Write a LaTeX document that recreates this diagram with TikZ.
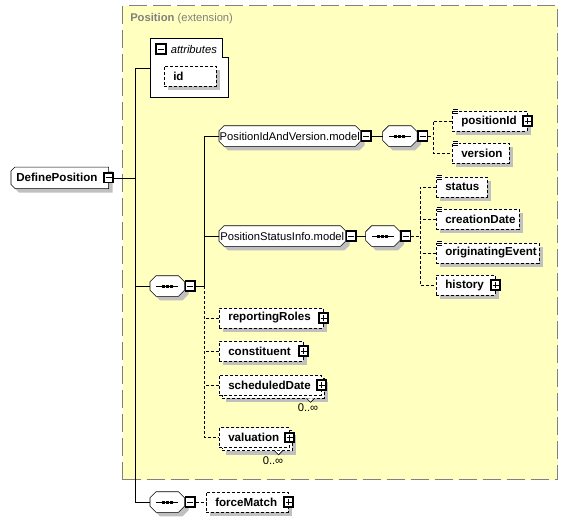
\documentclass[tikz,border=0pt]{standalone}
\usepackage{fontspec}
\setmainfont{Liberation Sans}
\usepackage{tikz}
\usetikzlibrary{shadows}
\pgfdeclarelayer{back}
\pgfdeclarelayer{background}
\pgfsetlayers{back,background,main}
\newdimen\pxu
\pxu=0.75pt
\hyphenpenalty=10000
\definecolor{extfill}{RGB}{255,255,192}
\definecolor{extline}{RGB}{128,128,128}
\definecolor{shgray}{RGB}{192,192,192}
\newcommand{\boldfnt}{\fontsize{8.7}{10}\selectfont\bfseries}
\newcommand{\plainfnt}{\fontsize{8.4}{10}\selectfont}
\newcommand{\octpath}[2]{([xshift=#2]#1.north west) -- ([xshift=-#2]#1.north east) -- ([yshift=-#2]#1.north east) -- ([yshift=#2]#1.south east) -- ([xshift=-#2]#1.south east) -- ([xshift=#2]#1.south west) -- ([yshift=#2]#1.south west) -- ([yshift=-#2]#1.north west) -- cycle}

\begin{document}
\begin{tikzpicture}[x=0.75pt, y=-0.75pt, line width=0.75pt]
      \tikzstyle{ext} = [draw=extline, fill=extfill, line width=1.1pt, dash pattern=on 13.5pt off 4.5pt, anchor=north west, inner sep=0pt, minimum width=435\pxu, minimum height=474\pxu]
      \tikzstyle{shadowed} = [drop shadow={shadow xshift=4\pxu, shadow yshift=-4\pxu, fill=shgray, opacity=1}]
      \tikzstyle{optline} = [dash pattern=on 2.25pt off 1.5pt]
      \tikzstyle{elem} = [draw, fill=white, font=\boldfnt, anchor=west, align=left, inner xsep=9\pxu, inner ysep=0pt, minimum height=20\pxu, shadowed]
      \tikzstyle{opt} = [elem, optline]
      \tikzstyle{multi} = [draw, fill=white, font=\boldfnt, anchor=west, align=left, inner xsep=9\pxu, inner ysep=0pt, minimum height=20\pxu, optline, drop shadow={shadow xshift=7\pxu, shadow yshift=-7\pxu, fill=shgray, opacity=1}, copy shadow={shadow xshift=3\pxu, shadow yshift=-3\pxu, draw=black, fill=white, optline}]
      \tikzstyle{icon} = [inner sep=0pt, minimum width=6\pxu, minimum height=6\pxu, fill=white, path picture={\foreach \k in {0.75,2.75,4.75} \draw[line width=0.75pt] ([yshift=-\k\pxu]path picture bounding box.north west) -- ++(5.5\pxu,0);}]
      \tikzstyle{simple} = [label={[icon, anchor=north west, xshift=0.5\pxu, yshift=2\pxu]north west:}]
      \tikzstyle{pmbox} = [draw, fill=white, line width=1.2pt, inner sep=0pt, minimum size=9.5\pxu]
      \tikzstyle{minus} = [pmbox, path picture={\draw[line width=0.75pt] ([xshift=-3\pxu]path picture bounding box.center) -- ([xshift=3\pxu]path picture bounding box.center);}]
      \tikzstyle{plus} = [pmbox, path picture={\draw[line width=0.75pt] ([xshift=-3\pxu]path picture bounding box.center) -- ([xshift=3\pxu]path picture bounding box.center) ([yshift=-3\pxu]path picture bounding box.center) -- ([yshift=3\pxu]path picture bounding box.center);}]
      \tikzstyle{seq} = [inner sep=0pt, minimum width=34\pxu, minimum height=20\pxu, anchor=west]
      \tikzstyle{seqmark} = [path picture={\draw ([xshift=-11\pxu]path picture bounding box.center) -- ([xshift=11\pxu]path picture bounding box.center); \draw[line width=3\pxu, dash pattern=on 3\pxu off 1\pxu] ([xshift=-5.5\pxu]path picture bounding box.center) -- ([xshift=5.5\pxu]path picture bounding box.center);}]
      \tikzstyle{grp} = [font=\plainfnt, inner sep=0pt, minimum height=20\pxu, anchor=west]
      \tikzstyle{root} = [font=\boldfnt, inner xsep=5\pxu, inner ysep=0pt, text width=87\pxu, align=left, minimum height=21\pxu, anchor=west]
      \tikzstyle{tail} = [fill=white, line width=0.5pt]
      \useasboundingbox (0,0) rectangle (568,522);
      \begin{pgfonlayer}{back}
        \node[ext] (ext) at (122,5) {};
      \end{pgfonlayer}
      \node[anchor=west, font=\plainfnt, text=extline, inner sep=0pt] (title) at (130,19) {\textbf{Position} (extension)};
      \node[root] (root) at (11,177.8) {DefinePosition};
      \node[minus] (root-m) at (root.east) {};
      \node[minimum width=78\pxu, minimum height=59\pxu, anchor=north west, inner sep=0pt] (attr) at (150,38) {};
      \filldraw[fill=white] (attr.north west) -- ([xshift=-6\pxu]attr.north east) -- ([xshift=-6\pxu,yshift=-19\pxu]attr.north east) -- ([yshift=-19\pxu]attr.north east) -- (attr.south east) -- (attr.south west) -- cycle;
      \node[minus] (attr-m) at (161,49) {};
      \node[anchor=west, font=\plainfnt\itshape, inner sep=0pt] (attr-t) at ([xshift=4\pxu]attr-m.east) {attributes};
      \node[opt, text width=34\pxu] (id) at (164,76) {id};
      \node[grp, minimum width=141\pxu] (piv) at (219,136) {PositionIdAndVersion.model};
      \node[minus, anchor=west] (piv-m) at (piv.east) {};
      \node[seq] (seqpiv) at ([xshift=11\pxu]piv-m.east) {};
      \node[minus, anchor=west] (seqpiv-m) at (seqpiv.east) {};
      \node[opt, simple, text width=57\pxu] (pid) at (452,121) {positionId};
      \node[plus] (pid-p) at (pid.east) {};
      \node[opt, simple, text width=39\pxu] (ver) at (452,153) {version};
      \node[grp, minimum width=126\pxu] (psi) at (219,236) {PositionStatusInfo.model};
      \node[minus, anchor=west] (psi-m) at (psi.east) {};
      \node[seq] (seqpsi) at ([xshift=9\pxu]psi-m.east) {};
      \node[minus, anchor=west] (seqpsi-m) at (seqpsi.east) {};
      \node[opt, simple, text width=33\pxu] (stat) at (436,187) {status};
      \node[opt, simple, text width=65\pxu] (cdate) at (436,219) {creationDate};
      \node[opt, simple, text width=85\pxu] (oevt) at (436,253) {originatingEvent};
      \node[opt, text width=41\pxu] (hist) at (436,285) {history};
      \node[plus] (hist-p) at (hist.east) {};
      \node[seq] (seqpos) at (150,286) {};
      \node[minus, anchor=west] (seqpos-m) at (seqpos.east) {};
      \node[opt, text width=86\pxu] (rr) at (219,318) {reportingRoles};
      \node[plus] (rr-p) at (rr.east) {};
      \node[opt, text width=66\pxu] (cons) at (219,351) {constituent};
      \node[plus] (cons-p) at (cons.east) {};
      \node[multi, text width=84\pxu] (sd) at (219,385) {scheduledDate};
      \node[plus] (sd-p) at (sd.east) {};
      \filldraw[tail] ([xshift=-15\pxu,yshift=-3\pxu]sd.south east) -- ([xshift=-11\pxu,yshift=-7\pxu]sd.south east) -- ([xshift=-7\pxu,yshift=-3\pxu]sd.south east);
      \node[font=\plainfnt, inner sep=0pt] (sd-c) at (308,408) {0..∞};
      \node[multi, text width=52\pxu] (val) at (219,437.5) {valuation};
      \node[plus] (val-p) at (val.east) {};
      \filldraw[tail] ([xshift=-15\pxu,yshift=-3\pxu]val.south east) -- ([xshift=-11\pxu,yshift=-7\pxu]val.south east) -- ([xshift=-7\pxu,yshift=-3\pxu]val.south east);
      \node[font=\plainfnt, inner sep=0pt] (val-c) at (273,461) {0..∞};
      \node[seq] (seqfm) at (150,502) {};
      \node[minus, anchor=west] (seqfm-m) at (seqfm.east) {};
      \node[opt, text width=64\pxu] (fm) at (206,502) {forceMatch};
      \node[plus] (fm-p) at (fm.east) {};
      \begin{pgfonlayer}{background}
        \filldraw[fill=white, shadowed] ([xshift=4\pxu]root.north west) -- (root.north east) -- (root.south east) -- ([xshift=4\pxu]root.south west) -- ([yshift=4\pxu]root.south west) -- ([yshift=-4\pxu]root.north west) -- cycle;
        \filldraw[fill=white, shadowed] \octpath{piv}{5\pxu};
        \filldraw[fill=white, shadowed] \octpath{psi}{5\pxu};
        \filldraw[fill=white, shadowed, seqmark] \octpath{seqpiv}{6\pxu};
        \filldraw[fill=white, shadowed, seqmark] \octpath{seqpsi}{6\pxu};
        \filldraw[fill=white, shadowed, seqmark] \octpath{seqpos}{6\pxu};
        \filldraw[fill=white, shadowed, seqmark] \octpath{seqfm}{6\pxu};
      \end{pgfonlayer}
      \coordinate (tr) at (135,0);
      \coordinate (br) at (204,0);
      \coordinate (br2) at (433,0);
      \coordinate (br3) at (420,0);
      \draw (attr.west) -- (attr.west -| tr) -- (seqfm.west -| tr) -- (seqfm.west);
      \draw (root-m.east) -- (root-m.east -| tr);
      \draw (seqpos.west -| tr) -- (seqpos.west);
      \draw (seqpos-m.east) -- (seqpos-m.east -| br);
      \draw (piv.west) -| (seqpos-m.east -| br);
      \draw (psi.west) -- (psi.west -| br);
      \draw[optline] (seqpos-m.east -| br) |- (val.west);
      \draw[optline] (rr.west) -- (rr.west -| br);
      \draw[optline] (cons.west) -- (cons.west -| br);
      \draw[optline] (sd.west) -- (sd.west -| br);
      \draw (piv-m.east) -- (seqpiv.west);
      \draw (psi-m.east) -- (seqpsi.west);
      \draw[optline] (seqpiv-m.east) -- (seqpiv-m.east -| br2);
      \draw[optline] (pid.west) -- (pid.west -| br2) |- (ver.west);
      \draw[optline] (seqpsi-m.east) -- (seqpsi-m.east -| br3);
      \draw[optline] (stat.west) -- (stat.west -| br3) |- (hist.west);
      \draw[optline] (cdate.west) -- (cdate.west -| br3);
      \draw[optline] (oevt.west) -- (oevt.west -| br3);
      \draw[optline] (seqfm-m.east) -- (fm.west);
\end{tikzpicture}
\end{document}
